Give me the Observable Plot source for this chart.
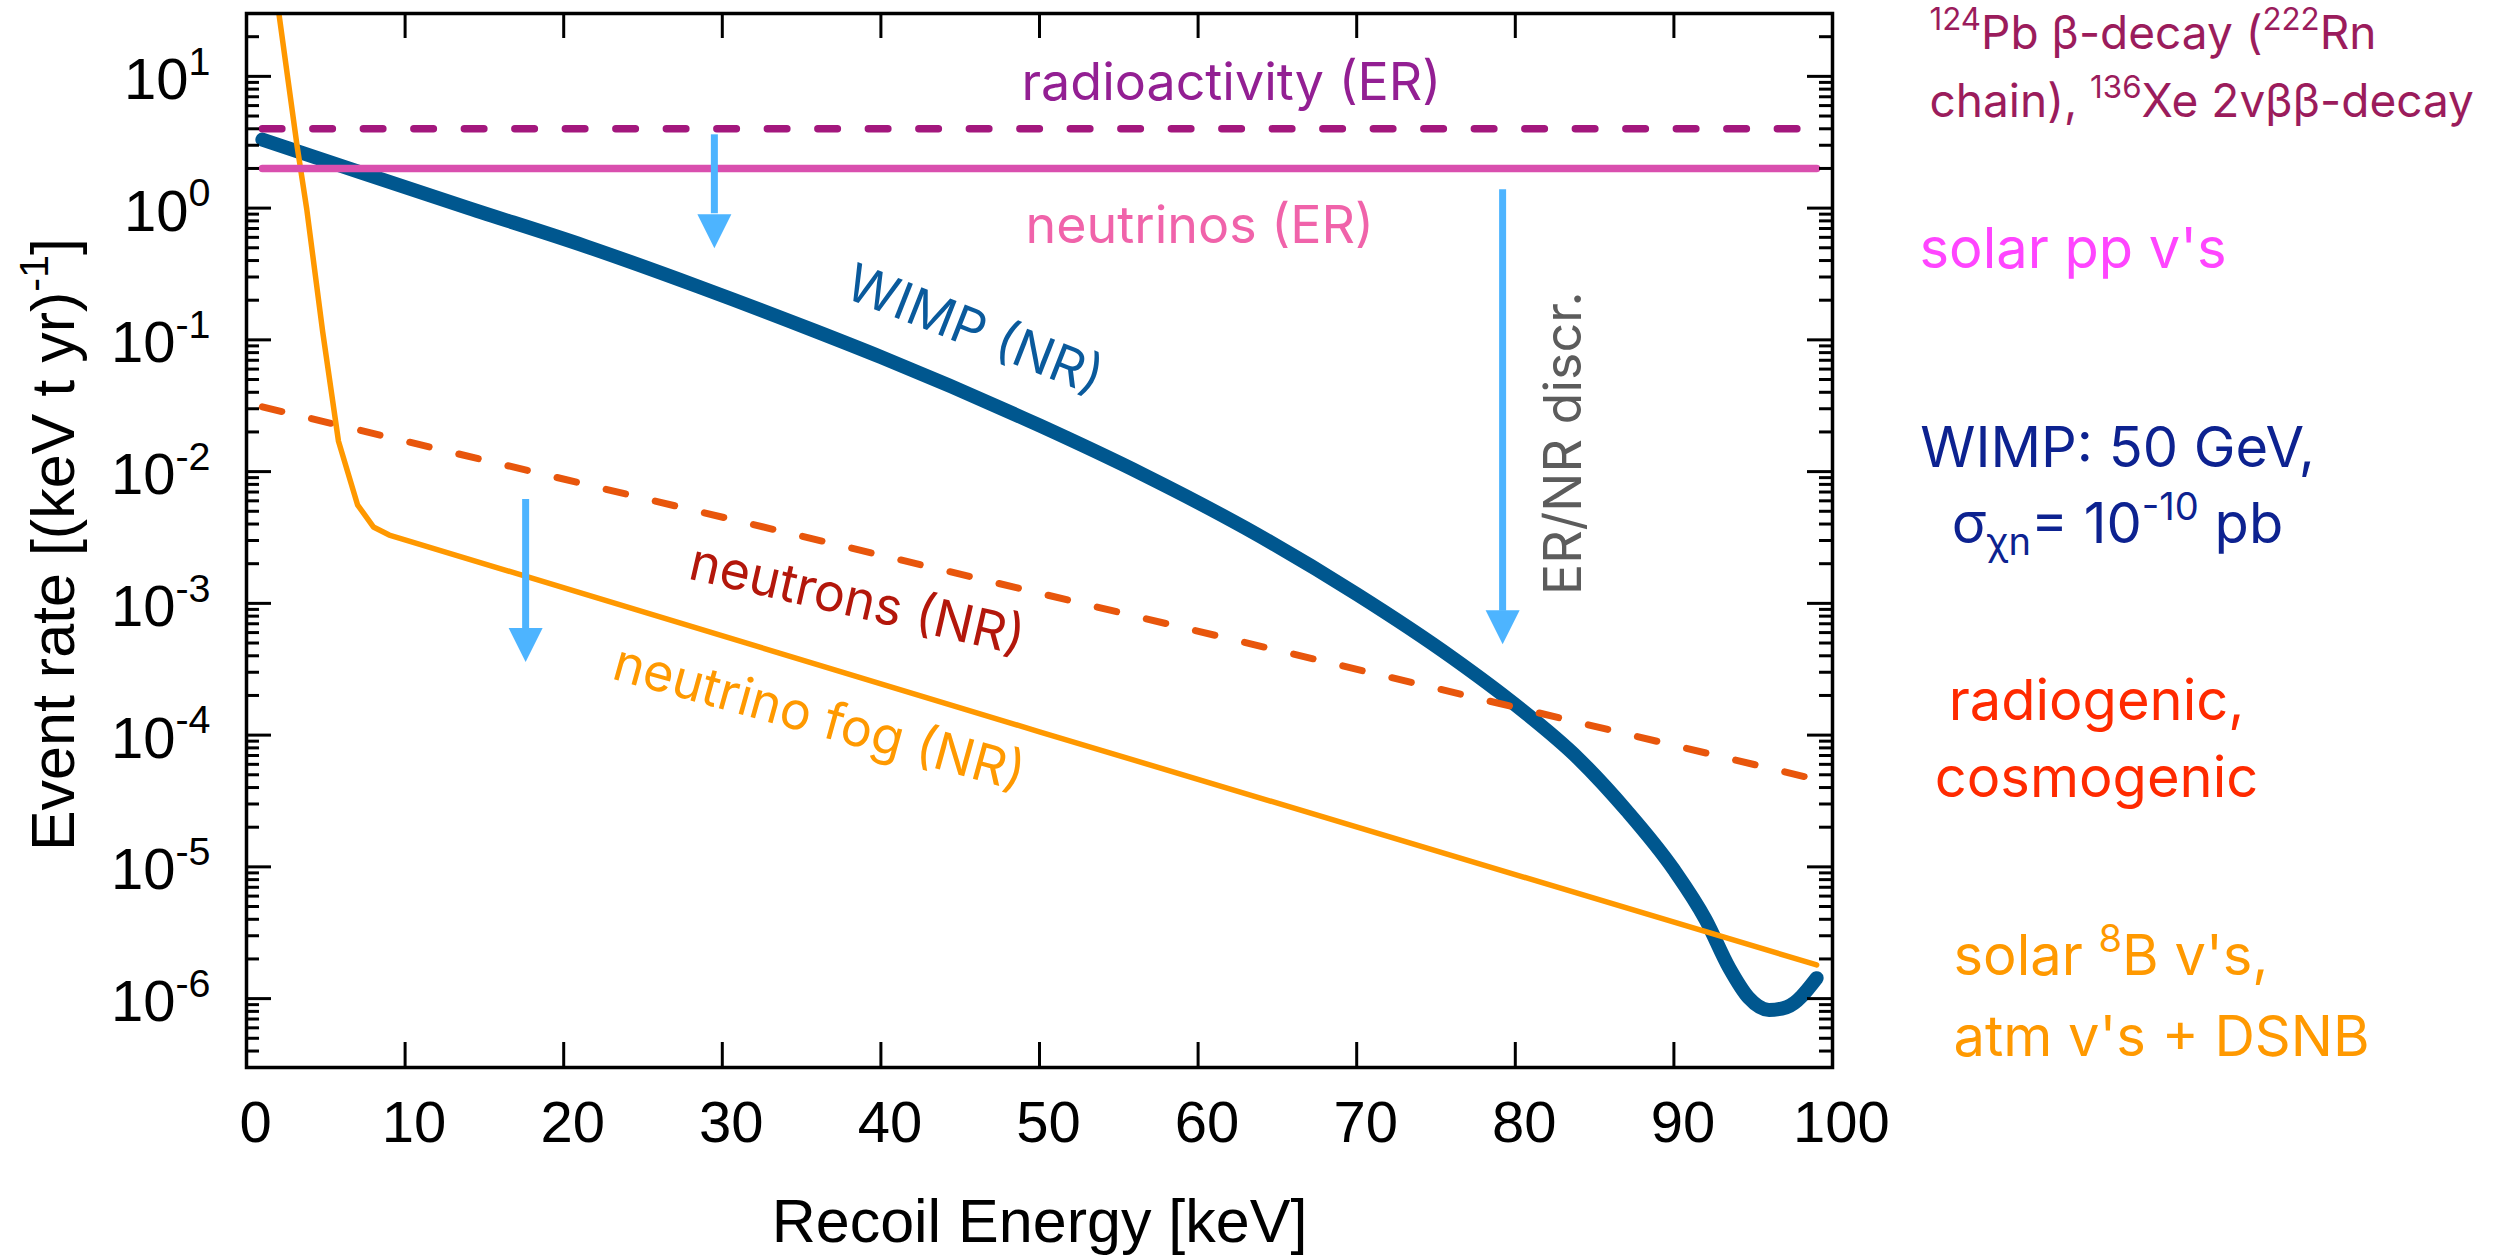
<!DOCTYPE html>
<html>
<head>
<meta charset="utf-8">
<script src="https://cdn.jsdelivr.net/npm/d3@7"></script>
<script src="https://cdn.jsdelivr.net/npm/@observablehq/plot@0.6"></script>
<style>
  html, body { margin: 0; padding: 0; background: #fff; }
  #chart svg { display: block; }
</style>
</head>
<body>
<div id="chart"></div>
<script>
// ---- Differential event rates, (keV t yr)^-1, versus recoil energy (keV) ----

// WIMP signal (50 GeV, sigma = 1e-10 pb), nuclear recoils
const wimpEnergy = [1, 7, 14, 21.4, 28.6, 35.8, 40, 50, 56.5, 63, 70, 76, 80, 84, 87, 90, 92, 93.5, 94.7, 96, 97.1, 99];
const wimpRate   = [3.31, 1.9, 1.0, 0.513, 0.251, 0.1175, 0.0741, 0.0224, 0.00955, 0.00372, 0.001175, 3.89e-4, 1.7e-4,
                    6.6e-5, 2.69e-5, 9.5e-6, 3.98e-6, 1.7e-6, 1.02e-6, 8.2e-7, 8.6e-7, 1.43e-6];

// neutrino fog (solar 8B, atmospheric, DSNB), nuclear recoils
const fogEnergy = [1.9, 3.2, 3.8, 4.8, 5.8, 7.0, 8.0, 9.0, 50, 99];
const fogRate   = [40, 2.9, 0.98, 0.116, 0.017, 5.6e-3, 3.8e-3, 3.3e-3, 1.06e-4, 1.8e-6];

// radiogenic + cosmogenic neutrons, nuclear recoils
const neutronEnergy = [1, 99];
const neutronRate   = [0.031, 4.6e-5];

// electronic-recoil backgrounds (flat)
const erEnergy          = [1, 99];
const radioactivityRate = [4, 4];
const solarNuRate       = [2, 2];

// ER/NR discrimination arrows: energy, start, head base, tip
const arrowEnergy   = [29.5, 17.6, 79.2];
const arrowStart    = [3.6, 6.15e-3, 1.38];
const arrowHeadBase = [0.906, 6.4e-4, 8.7e-4];
const arrowTip      = [0.495, 3.59e-4, 4.9e-4];

// axis ticks
const xTickValues = [0, 10, 20, 30, 40, 50, 60, 70, 80, 90, 100];
const yMajorValues = [1e-6, 1e-5, 1e-4, 1e-3, 1e-2, 1e-1, 1, 10];
const yTickLabels = ["10^{-6}", "10^{-5}", "10^{-4}", "10^{-3}", "10^{-2}", "10^{-1}", "10^{0}", "10^{1}"];
const yDomain = [3e-7, 30];

// ---- tables for the marks ----
const zip = (xs, ys) => xs.map((x, i) => ({x, y: ys[i]}));
const wimp = zip(wimpEnergy, wimpRate);
const fog = zip(fogEnergy, fogRate);
const neutrons = zip(neutronEnergy, neutronRate);
const radioactivity = zip(erEnergy, radioactivityRate);
const solarNu = zip(erEnergy, solarNuRate);
const arrows = arrowEnergy.map((x, i) => ({x, start: arrowStart[i], base: arrowHeadBase[i], tip: arrowTip[i]}));

const yMinorValues = [];
for (let e = -7; e <= 1; e++) {
  for (let m = 2; m <= 9; m++) {
    const v = m * Math.pow(10, e);
    if (v > yDomain[0] * 1.01 && v < yDomain[1] * 0.99) yMinorValues.push(v);
  }
}
const xInnerTicks = xTickValues.filter(v => v > 0 && v < 100);

// ---- layout ----
const W = 2506, H = 1258;
const M = {left: 246, right: 674, top: 13, bottom: 191};
const frameW = W - M.left - M.right;
const frameH = H - M.top - M.bottom;
const majorLen = 25, minorLen = 13;
const axisFont = "'Liberation Sans', Arial, Helvetica, sans-serif";
const noteFont = "Inter, 'Open Sans', sans-serif";
const arrowBlue = "#4db4ff";

// downward filled arrow head with its tip at the anchor point
const arrowHead = {
  draw(ctx) {
    ctx.moveTo(-17, -34);
    ctx.lineTo(17, -34);
    ctx.lineTo(0, 0);
    ctx.closePath();
  }
};

// labels drawn inside the frame (anchored in data units)
const inLabels = [
  {text: "radioactivity (ER)", x: 62.1, y: 8.9,     angle: 0,    color: "#931f93"},
  {text: "neutrinos (ER)",     x: 60.1, y: 0.73,    angle: 0,    color: "#f063aa"},
  {text: "WIMP (NR)",          x: 45.9, y: 0.117,   angle: 21.5, color: "#0a5a9c"},
  {text: "neutrons (NR)",      x: 38.5, y: 1.05e-3, angle: 13,   color: "#b3170b"},
  {text: "neutrino fog (NR)",  x: 36.1, y: 1.33e-4, angle: 15.5, color: "#ff9900"},
  {text: "ER/NR discr.",       x: 83.1, y: 0.0164,  angle: -90,  color: "#5c5c5c"}
];

// source descriptions to the right of the frame
const notesPurple = [{text: "^{124}Pb β-decay (^{222}Rn", y: 20.9}, {text: "chain), ^{136}Xe 2vββ-decay", y: 6.37}];
const notesPink   = [{text: "solar pp v's", y: 0.483}];
const notesWimp   = [{text: "WIMP: 50 GeV,", y: 0.0149}, {text: "σ_{χn}= 10^{-10} pb", y: 3.9e-3}];
const notesRed    = [{text: "radiogenic,", y: 1.77e-4}, {text: "cosmogenic", y: 4.6e-5}];
const notesOrange = [{text: "solar ^{8}B v's,", y: 2.05e-6}, {text: "atm v's + DSNB", y: 4.98e-7}];

const chart = Plot.plot({
  width: W,
  height: H,
  marginLeft: M.left,
  marginRight: M.right,
  marginTop: M.top,
  marginBottom: M.bottom,
  style: {background: "white", fontFamily: noteFont, overflow: "visible"},
  x: {domain: [0, 100], axis: null},
  y: {type: "log", domain: yDomain, axis: null},
  marks: [
    Plot.line(wimp, {x: "x", y: "y", stroke: "#00578f", strokeWidth: 14, strokeLinejoin: "round", curve: "monotone-x"}),
    Plot.line(neutrons, {x: "x", y: "y", stroke: "#e8560c", strokeWidth: 7, strokeDasharray: "20,30.5"}),
    Plot.line(fog, {x: "x", y: "y", stroke: "#ff9800", strokeWidth: 5.5, strokeLinejoin: "round", clip: true}),
    Plot.line(solarNu, {x: "x", y: "y", stroke: "#d94fae", strokeWidth: 7.5}),
    Plot.line(radioactivity, {x: "x", y: "y", stroke: "#a3177d", strokeWidth: 7.5, strokeDasharray: "19.5,31"}),

    // discrimination arrows
    Plot.ruleX(arrows, {x: "x", y1: "start", y2: "base", stroke: arrowBlue, strokeWidth: 7}),
    Plot.dot(arrows, {x: "x", y: "tip", symbol: arrowHead, fill: arrowBlue, stroke: "none"}),

    // labels inside the frame
    ...inLabels.map(d => Plot.text([d], {
      x: "x", y: "y", text: "text", rotate: d.angle, fill: d.color,
      fontSize: 52, fontFamily: noteFont
    })),

    // inner ticks on all four sides
    Plot.ruleY(yMajorValues, {insetRight: frameW - majorLen, stroke: "black", strokeWidth: 3}),
    Plot.ruleY(yMajorValues, {insetLeft: frameW - majorLen, stroke: "black", strokeWidth: 3}),
    Plot.ruleY(yMinorValues, {insetRight: frameW - minorLen, stroke: "black", strokeWidth: 3}),
    Plot.ruleY(yMinorValues, {insetLeft: frameW - minorLen, stroke: "black", strokeWidth: 3}),
    Plot.ruleX(xInnerTicks, {insetBottom: frameH - majorLen, stroke: "black", strokeWidth: 3}),
    Plot.ruleX(xInnerTicks, {insetTop: frameH - majorLen, stroke: "black", strokeWidth: 3}),
    Plot.frame({stroke: "black", strokeWidth: 3.5}),

    // tick labels
    Plot.text(xTickValues, {
      x: d => d, text: d => String(d), frameAnchor: "bottom", dy: 74, dx: 9,
      fontSize: 58, fontFamily: axisFont, fill: "black"
    }),
    Plot.text(yMajorValues, {
      y: d => d, text: (d, i) => yTickLabels[i], frameAnchor: "left", textAnchor: "end",
      dx: -36, dy: 4, fontSize: 58, fontFamily: axisFont, fill: "black"
    }),

    // axis titles
    Plot.text(["Recoil Energy [keV]"], {
      text: d => d, frameAnchor: "bottom", textAnchor: "middle", dy: 174,
      fontSize: 61, fontFamily: axisFont, fill: "black"
    }),
    Plot.text(["Event rate [(keV t yr)^{-1}]"], {
      text: d => d, frameAnchor: "left", textAnchor: "middle", dx: -192, dy: 4, rotate: -90,
      fontSize: 61, fontFamily: axisFont, fill: "black"
    }),

    // source descriptions on the right
    Plot.text(notesPurple, {y: "y", text: "text", frameAnchor: "right", textAnchor: "start", dx: 97,
      fontSize: 46, fontFamily: noteFont, fill: "#9b1c5c"}),
    Plot.text(notesPink, {y: "y", text: "text", frameAnchor: "right", textAnchor: "start", dx: 87,
      fontSize: 56, fontFamily: noteFont, fill: "#ff45ff"}),
    Plot.text(notesWimp, {y: "y", text: "text", frameAnchor: "right", textAnchor: "middle", dx: 285,
      fontSize: 56, fontFamily: noteFont, fill: "#0d2290"}),
    Plot.text(notesRed, {y: "y", text: "text", frameAnchor: "right", textAnchor: "middle", dx: 264,
      fontSize: 56, fontFamily: noteFont, fill: "#ff2a00"}),
    Plot.text(notesOrange, {y: "y", text: "text", frameAnchor: "right", textAnchor: "start", dx: 121,
      fontSize: 56, fontFamily: noteFont, fill: "#ff9900"})
  ]
});

document.getElementById("chart").appendChild(chart);

// Turn ^{...} and _{...} markup into raised / lowered tspans.
function richText(svg) {
  const NS = "http://www.w3.org/2000/svg";
  svg.querySelectorAll("text").forEach(t => {
    const s = t.textContent;
    if (!/[\^_]\{/.test(s)) return;
    const fs = parseFloat(getComputedStyle(t).fontSize);
    const parts = s.split(/([\^_]\{[^}]*\})/).filter(p => p.length);
    while (t.firstChild) t.removeChild(t.firstChild);
    let shift = 0;
    for (const p of parts) {
      const ts = document.createElementNS(NS, "tspan");
      let target = 0, str = p;
      if (p.startsWith("^{")) {
        target = -0.42 * fs; str = p.slice(2, -1);
        ts.setAttribute("font-size", 0.68 * fs);
      } else if (p.startsWith("_{")) {
        target = 0.2 * fs; str = p.slice(2, -1);
        ts.setAttribute("font-size", 0.68 * fs);
      }
      ts.setAttribute("dy", target - shift);
      shift = target;
      ts.textContent = str;
      t.appendChild(ts);
    }
  });
}
richText(chart);
</script>
</body>
</html>
